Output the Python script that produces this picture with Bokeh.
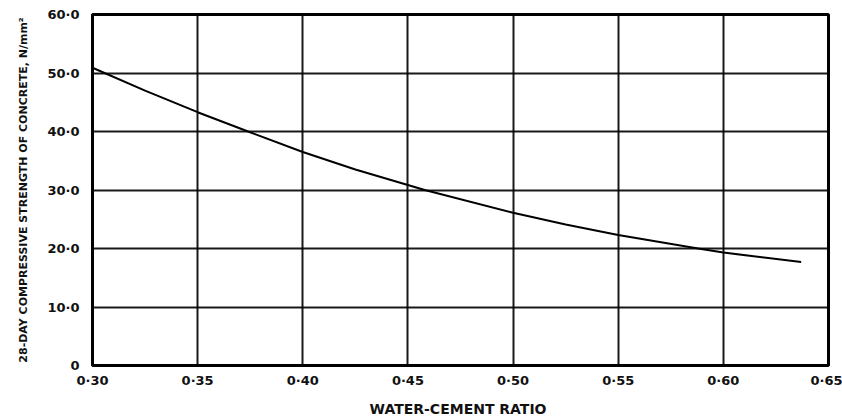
from bokeh.plotting import figure
from bokeh.models import FixedTicker, Range1d
from bokeh.embed import file_html
from bokeh.resources import INLINE

# Water-cement ratio vs. 28-day compressive strength
wc_ratio = [0.30, 0.325, 0.35, 0.374, 0.40, 0.425, 0.458, 0.50, 0.525, 0.55, 0.588, 0.60, 0.637]
strength = [50.9, 47.0, 43.3, 40.0, 36.5, 33.5, 30.0, 26.1, 24.1, 22.3, 20.0, 19.3, 17.7]

x_ticks = [0.30, 0.35, 0.40, 0.45, 0.50, 0.55, 0.60, 0.65]
x_tick_labels = ["0·30", "0·35", "0·40", "0·45", "0·50", "0·55", "0·60", "0·65"]
y_ticks = [0, 10, 20, 30, 40, 50, 60]
y_tick_labels = ["0", "10·0", "20·0", "30·0", "40·0", "50·0", "60·0"]

FONT = "DejaVu Sans"

p = figure(width=842, height=419, output_backend="svg", toolbar_location=None,
           x_range=Range1d(0.30, 0.65), y_range=Range1d(0, 60),
           min_border_left=92, min_border_right=14, min_border_top=14,
           min_border_bottom=46)

p.background_fill_color = "white"
p.border_fill_color = "white"
p.outline_line_color = "black"
p.outline_line_width = 3

for ax in (p.xaxis, p.yaxis):
    ax.major_tick_line_color = None
    ax.minor_tick_line_color = None
    ax.axis_line_color = "black"
    ax.major_label_text_font = FONT
    ax.major_label_text_font_style = "bold"
    ax.major_label_text_font_size = "13px"
    ax.major_label_text_color = "#111111"
    ax.axis_label_text_font = FONT
    ax.axis_label_text_font_style = "bold"
    ax.axis_label_text_color = "#111111"

p.xaxis.ticker = FixedTicker(ticks=x_ticks)
p.xaxis.major_label_overrides = {t: l for t, l in zip(x_ticks, x_tick_labels)}
p.xaxis.axis_line_width = 2
p.xaxis.major_label_standoff = 1
p.xaxis.axis_label = "WATER-CEMENT  RATIO"
p.xaxis.axis_label_text_font_size = "14px"
p.xaxis.axis_label_standoff = 10

p.yaxis.ticker = FixedTicker(ticks=y_ticks)
p.yaxis.major_label_overrides = {t: l for t, l in zip(y_ticks, y_tick_labels)}
p.yaxis.axis_line_width = 3
p.yaxis.major_label_standoff = 7
p.yaxis.axis_label = "28-DAY COMPRESSIVE STRENGTH OF CONCRETE, N/mm²"
p.yaxis.axis_label_text_font_size = "11px"
p.yaxis.axis_label_standoff = 14

p.xgrid.ticker = FixedTicker(ticks=x_ticks)
p.ygrid.ticker = FixedTicker(ticks=y_ticks)
for g in (p.xgrid, p.ygrid):
    g.grid_line_color = "black"
    g.grid_line_width = 2
    g.grid_line_alpha = 0.9

p.line(wc_ratio, strength, line_color="black", line_width=2)

open("out.html", "w").write(file_html(p, INLINE))
